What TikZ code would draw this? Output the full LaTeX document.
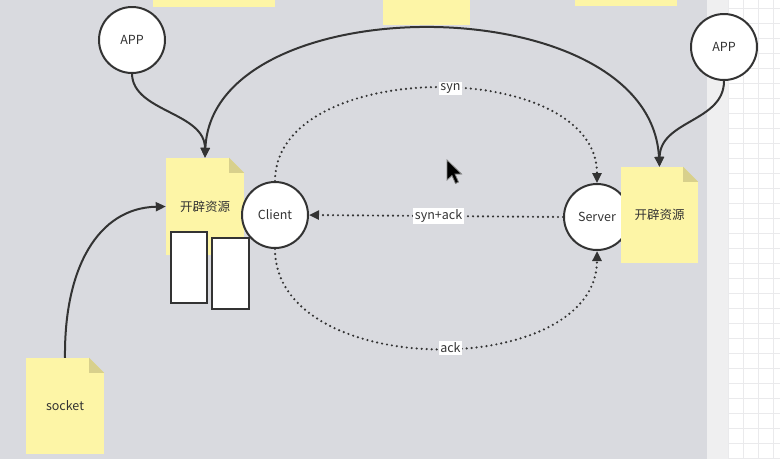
\documentclass[tikz,border=0pt]{standalone}
\usepackage{fontspec}
\setmainfont{Noto Sans CJK SC}
\usetikzlibrary{calc,arrows.meta}
\definecolor{canvas}{HTML}{D9DADF}
\definecolor{strip}{HTML}{EFEFF0}
\definecolor{gridline}{HTML}{EAEAEC}
\definecolor{notey}{HTML}{FDF5A6}
\definecolor{notefold}{HTML}{D8D08C}
\definecolor{ink}{HTML}{333333}
\tikzset{
	txt/.style={text=ink, font=\fontsize{12.5}{15}\selectfont},
	notebox/.style={txt, fill=notey, inner sep=0pt},
	peer/.style={txt, circle, draw=ink, line width=2pt, fill=white, minimum size=66pt, inner sep=0pt},
	buffer/.style={draw=ink, line width=2pt, fill=white},
	flow/.style={draw=ink, line width=2pt, -{Triangle[length=10pt,width=9pt]}},
	msg/.style={draw=ink, line width=2.4pt, line cap=round, dash pattern=on 0pt off 5pt, -{Triangle[length=10pt,width=9pt]}},
	tag/.style={txt, fill=white, inner sep=1.5pt},
}
\def\stickynote(#1)(#2,#3)(#4:#5)#6{%
	\node[notebox, minimum width=#4pt, minimum height=#5pt] (#1) at (#2,#3) {#6};
	\fill[canvas] ($(#1.north east)+(-15pt,0pt)$) -- (#1.north east) -- ($(#1.north east)+(0pt,-15pt)$) -- cycle;
	\fill[notefold] ($(#1.north east)+(-15pt,0pt)$) -- ($(#1.north east)+(0pt,-15pt)$) -- ($(#1.north east)+(-15pt,-15pt)$) -- cycle;
}

\begin{document}
\begin{tikzpicture}[x=1pt, y=-1pt]
			%%%%% START %%%%%
			
			\useasboundingbox (0, 0) rectangle (780, 459);
			\fill[white] (0, 0) rectangle (780, 459);
			\foreach \gx in {728, 743, ..., 780} \draw[gridline, line width=0.8pt] (\gx, 0) -- (\gx, 459);
			\foreach \gy in {8, 23, ..., 459} \draw[gridline, line width=0.8pt] (728, \gy) -- (780, \gy);
			\fill[strip] (707, 0) rectangle (728, 459);
			\fill[canvas] (0, 0) rectangle (707, 459);
			
			\fill[notey] (153, 0) rectangle (275, 7);
			\fill[notey] (383, 0) rectangle (470, 25);
			\fill[notey] (575, 0) rectangle (677, 6);
			
			\node[peer] (appL) at (132, 40) {APP};
			\node[peer] (appR) at (724, 47) {APP};
			
			\stickynote(resL)(205, 206.5)(78:97){开辟资源}
			\node[peer] (client) at (275, 215) {Client};
			\draw[buffer] (171, 232) rectangle (207, 303);
			\draw[buffer] (212, 238) rectangle (249, 309);
			
			\node[peer] (server) at (597, 217) {Server};
			\stickynote(resR)(659.5, 215)(77:96){开辟资源}
			
			\stickynote(sock)(65, 406)(78:96){socket}
			
			\draw[flow] (appL.south) .. controls (133, 112) and (205, 112) .. (resL.north);
			\draw[flow] (appR.south) .. controls (724, 122) and (660, 120) .. (resR.north);
			\draw[flow, {Triangle[length=10pt,width=9pt]}-{Triangle[length=10pt,width=9pt]}] (resL.north) .. controls (212, -15) and (650, -15) .. (resR.north);
			\draw[flow] (sock.north) .. controls (64, 268) and (98, 208) .. (resL.west);
			
			\draw[msg] (client.north) .. controls (275, 57) and (597, 57) .. node[tag, pos=0.53] {syn} (server.north);
			\draw[msg] (server.west) -- node[tag, pos=0.49] {syn+ack} (client.east);
			\draw[msg] (client.south) .. controls (275, 381) and (597, 381) .. node[tag, pos=0.53] {ack} (server.south);
			
			\fill[black, draw=black!50, line width=0.8pt] (447, 160) -- (447, 180) -- (452, 175.5) -- (455.5, 183.5) -- (458.5, 182) -- (455, 174) -- (461.5, 174) -- cycle;
			
			%%%%% END %%%%%
\end{tikzpicture}
\end{document}
